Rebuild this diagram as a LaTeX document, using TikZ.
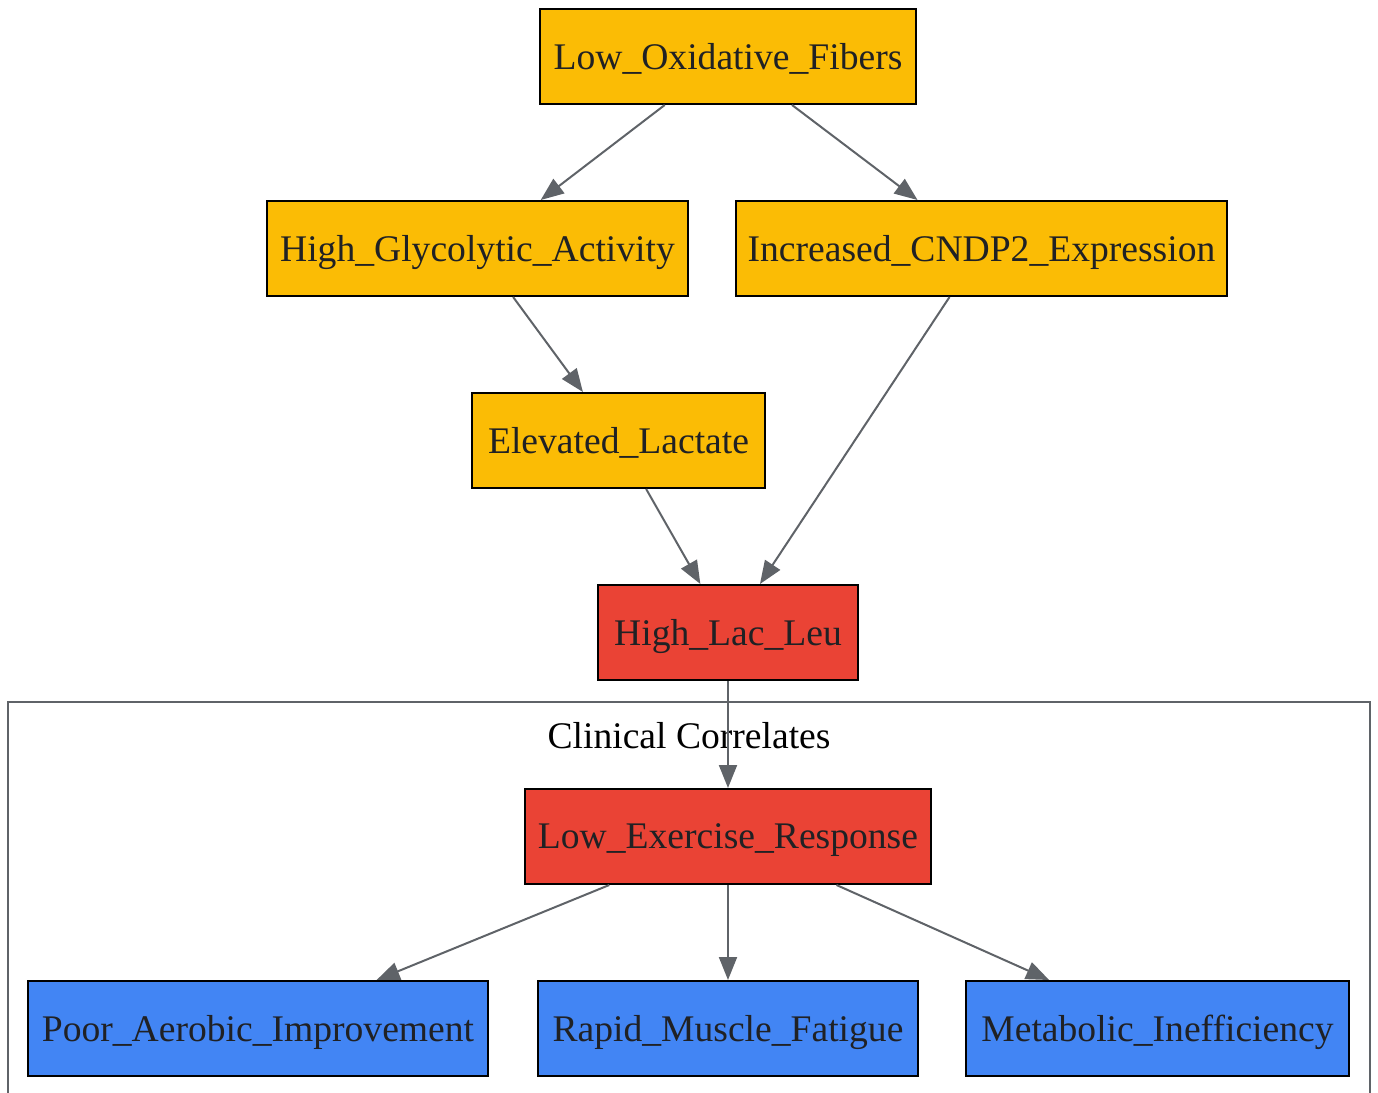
\documentclass[tikz,border=0pt]{standalone}
\usepackage{fontspec}
\setmainfont{Liberation Serif}
\usepackage{tikz}
\usetikzlibrary{arrows.meta, calc}

\definecolor{stepyellow}{HTML}{FBBC05}
\definecolor{stepred}{HTML}{EA4335}
\definecolor{stepblue}{HTML}{4285F4}
\definecolor{edgegray}{HTML}{5F6368}
\definecolor{textgray}{HTML}{202124}

\begin{document}
\begin{tikzpicture}[x = 0.5pt, y = -0.5pt,
	box/.style = {draw = black, line width = 1pt, minimum height = 47.5pt,
		inner xsep = 4pt, text depth = 0pt, text = textgray,
		font = \fontsize{18.8}{22}\selectfont},
	link/.style = {draw = edgegray, line width = 1pt,
		-{Triangle[length = 11.5pt, width = 9pt]}}]
\useasboundingbox (0, 0) rectangle (1378, 1093);
\draw[edgegray, line width = 1pt] (8, 1100) -- (8, 702) -- (1370, 702) -- (1370, 1100);
\node[font = \fontsize{18.8}{22}\selectfont] (clinical) at (689, 736) {Clinical Correlates};

\node[box, fill = stepyellow, minimum width = 188pt] (lowox) at (728, 56.5) {Low\_Oxidative\_Fibers};
\node[box, fill = stepyellow, minimum width = 210.5pt] (highgly) at (477.5, 248.5) {High\_Glycolytic\_Activity};
\node[box, fill = stepyellow, minimum width = 245.5pt] (cndp) at (981.5, 248.5) {Increased\_CNDP2\_Expression};
\node[box, fill = stepyellow, minimum width = 146.5pt] (lactate) at (618.5, 440.5) {Elevated\_Lactate};
\node[box, fill = stepred, minimum width = 130pt] (lacleu) at (728, 632.5) {High\_Lac\_Leu};
\node[box, fill = stepred, minimum width = 203pt] (lowex) at (728, 836.5) {Low\_Exercise\_Response};
\node[box, fill = stepblue, minimum width = 230pt] (poor) at (258, 1028.5) {Poor\_Aerobic\_Improvement};
\node[box, fill = stepblue, minimum width = 190pt] (rapid) at (728, 1028.5) {Rapid\_Muscle\_Fatigue};
\node[box, fill = stepblue, minimum width = 191.5pt] (metab) at (1157.5, 1028.5) {Metabolic\_Inefficiency};

\draw[link] (lowox) -- (highgly);
\draw[link] (lowox) -- (cndp);
\draw[link] (highgly) -- (lactate);
\draw[link] (lactate) -- (lacleu);
\draw[link] (cndp) -- (lacleu);
\draw[link] (lacleu) -- (lowex);
\draw[link] (lowex) -- (poor);
\draw[link] (lowex) -- (rapid);
\draw[link] (lowex) -- (metab);
\end{tikzpicture}
\end{document}
